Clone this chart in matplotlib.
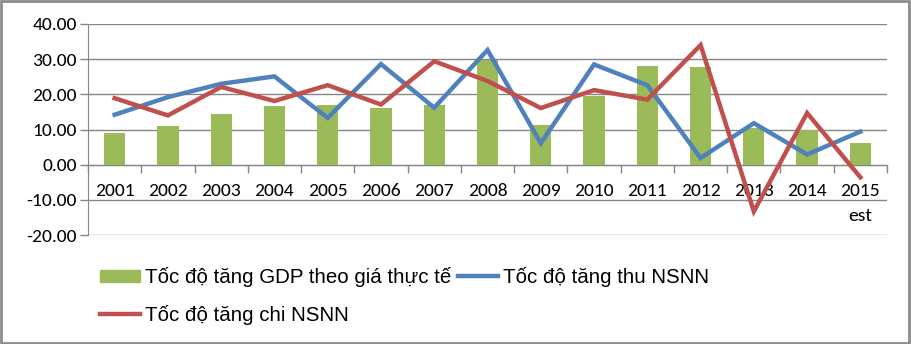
import matplotlib
matplotlib.use("Agg")
import matplotlib.pyplot as plt
from matplotlib.patches import Patch, Rectangle
from matplotlib.lines import Line2D
from matplotlib.ticker import FixedLocator, FormatStrFormatter
import numpy as np

years = ["2001", "2002", "2003", "2004", "2005", "2006", "2007", "2008",
         "2009", "2010", "2011", "2012", "2013", "2014", "2015\nest"]
gdp_growth = [8.9, 11.1, 14.3, 16.6, 17.1, 16.0, 17.1, 29.9,
              11.4, 19.5, 28.0, 27.7, 10.4, 10.0, 6.3]
revenue_growth = [14.2, 19.2, 23.0, 25.1, 13.3, 28.6, 16.2, 32.6,
                  6.1, 28.5, 22.6, 1.9, 11.8, 2.9, 9.4]
spending_growth = [18.9, 14.0, 22.1, 18.1, 22.6, 17.1, 29.4, 23.8,
                   16.1, 21.2, 18.5, 34.0, -13.3, 14.7, -3.6]

label_gdp = "Tốc độ tăng GDP theo giá thực tế"
label_rev = "Tốc độ tăng thu NSNN"
label_spend = "Tốc độ tăng chi NSNN"

GREEN = "#9BBB59"
BLUE = "#4F81BD"
RED = "#C0504D"
GRID = "#868686"

plt.rcParams["font.family"] = ["Carlito", "DejaVu Sans"]

fig = plt.figure(figsize=(9.12, 3.44), dpi=100)
ax = fig.add_axes([88 / 912, 1 - 235 / 344, 799 / 912, 211 / 344])

x = np.arange(len(years))
ax.bar(x, gdp_growth, width=0.4, color=GREEN, zorder=2)
ax.plot(x, revenue_growth, color=BLUE, lw=3.2, zorder=3, solid_joinstyle="miter")
ax.plot(x, spending_growth, color=RED, lw=3.2, zorder=4, solid_joinstyle="miter")

ax.set_xlim(-0.5, len(years) - 0.5)
ax.set_ylim(-20, 40)
ax.set_yticks(np.arange(-20, 41, 10))
ax.yaxis.set_major_formatter(FormatStrFormatter("%.2f"))
ax.grid(axis="y", color=GRID, lw=1, zorder=0)
ax.tick_params(axis="y", length=6, width=1, color=GRID, pad=2, labelsize=14)

# category axis sits on the zero line
ax.spines["bottom"].set_position(("data", 0))
ax.spines["bottom"].set_color(GRID)
ax.spines["left"].set_color(GRID)
ax.spines["top"].set_visible(False)
ax.spines["right"].set_visible(False)
ax.xaxis.set_major_locator(FixedLocator(np.arange(-0.5, len(years), 1.0)))
ax.xaxis.set_major_formatter(plt.NullFormatter())
ax.xaxis.set_minor_locator(FixedLocator(x))
ax.set_xticklabels(years, minor=True)
for lbl in ax.get_xticklabels(minor=True):
    lbl.set_linespacing(1.75)
ax.tick_params(axis="x", which="major", length=6, width=1, color=GRID, direction="out")
ax.tick_params(axis="x", which="minor", length=0, pad=13, labelsize=14)

handles = [Patch(color=GREEN), Line2D([], [], color=RED, lw=3.2),
           Line2D([], [], color=BLUE, lw=3.2)]
labels = [label_gdp, label_spend, label_rev]
fig.legend(handles, labels, ncol=2, loc="upper left",
           bbox_to_anchor=(100 / 912, 1 - 267 / 344), frameon=False,
           prop={"family": ["Liberation Sans", "DejaVu Sans"], "size": 14.8},
           handlelength=1.95, handleheight=0.55, handletextpad=0.25,
           columnspacing=0.3, labelspacing=0.87, borderpad=0, borderaxespad=0)

fig.add_artist(Rectangle((0.001, 0.003), 0.996, 0.995, transform=fig.transFigure,
                         fill=False, edgecolor="#8C8C8C", lw=2))

fig.savefig("out.png", dpi=100)
